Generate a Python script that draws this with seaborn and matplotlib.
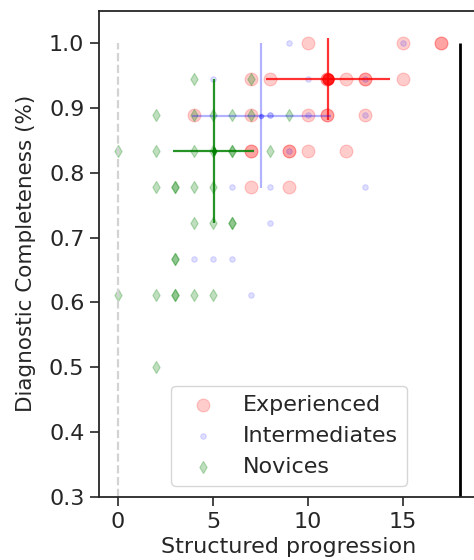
import numpy as np
import pandas as pd
import matplotlib
matplotlib.use('Agg')
import matplotlib.pyplot as plt
import seaborn as sns

# ===================== 数据 =====================
# Experienced (red circles)
exp_x = [10, 15, 17, 17, 7, 8, 11, 11, 12, 13, 13, 15,
         4, 7, 10, 11, 11, 13, 7, 7, 9, 9, 10, 12, 7, 9]
exp_y = [1.0, 1.0, 1.0, 1.0, 0.944, 0.944, 0.944, 0.944, 0.944, 0.944, 0.944, 0.944,
         0.889, 0.889, 0.889, 0.889, 0.889, 0.889, 0.833, 0.833, 0.833, 0.833, 0.833, 0.833,
         0.778, 0.778]

# Intermediates (blue dots)
int_x = [9, 15, 5, 10, 13, 8, 8, 10, 13, 9, 6, 8, 13, 8, 4, 5, 6, 7]
int_y = [1.0, 1.0, 0.944, 0.944, 0.944, 0.889, 0.889, 0.889, 0.889, 0.833,
         0.778, 0.778, 0.778, 0.722, 0.667, 0.667, 0.667, 0.611]

# Novices (green diamonds)
nov_x = [4, 7, 2, 4, 5, 6, 7, 9, 0, 2, 4, 5, 6, 6, 8,
         2, 3, 3, 4, 5, 4, 5, 6, 6, 3, 3, 0, 2, 3, 3, 4, 5, 2]
nov_y = [0.944, 0.944, 0.889, 0.889, 0.889, 0.889, 0.889, 0.889,
         0.833, 0.833, 0.833, 0.833, 0.833, 0.833, 0.833,
         0.778, 0.778, 0.778, 0.778, 0.778, 0.722, 0.722, 0.722, 0.722,
         0.667, 0.667, 0.611, 0.611, 0.611, 0.611, 0.611, 0.611, 0.5]

# 误差线 (center, x spread, y spread)
groups = ['Experienced', 'Intermediates', 'Novices']
center_x = [11.05, 7.55, 5.05]
center_y = [0.944, 0.888, 0.833]
err_x = [3.25, 3.65, 2.13]
err_y = [0.063, 0.112, 0.111]

# ===================== 绘图 =====================
sns.set_style('ticks')
plt.rcParams['font.family'] = ['DejaVu Sans']
fs = 16

fig = plt.figure(figsize=(4.74, 5.6), dpi=100)
ax = fig.add_axes([99 / 474, 63 / 560, 380 / 474, 486.5 / 560])

df_exp = pd.DataFrame({'x': exp_x, 'y': exp_y})
df_int = pd.DataFrame({'x': int_x, 'y': int_y})
df_nov = pd.DataFrame({'x': nov_x, 'y': nov_y})

sns.scatterplot(data=df_exp, x='x', y='y', color='red', marker='o', s=85,
                alpha=0.2, edgecolor='red', linewidth=0.8, label=groups[0], ax=ax)
sns.scatterplot(data=df_int, x='x', y='y', color='blue', marker='o', s=16,
                alpha=0.13, edgecolor='blue', linewidth=0.8, label=groups[1], ax=ax)
sns.scatterplot(data=df_nov, x='x', y='y', color='green', marker='d', s=38,
                alpha=0.25, edgecolor='green', linewidth=0.9, label=groups[2], ax=ax)

# 误差十字
ax.errorbar(center_x[0], center_y[0], xerr=err_x[0], yerr=err_y[0], fmt='o',
            color='red', ms=8, alpha=0.8, lw=1.6)
ax.errorbar(center_x[1], center_y[1], xerr=err_x[1], yerr=err_y[1], fmt='o',
            color='blue', ms=3, alpha=0.3, lw=1.6)
ax.errorbar(center_x[2], center_y[2], xerr=err_x[2], yerr=err_y[2], fmt='d',
            color='green', ms=4, alpha=0.85, lw=1.6)

# 参考线
ax.vlines(0, 0.3, 1.0, colors='lightgray', linestyles='--', lw=1.6)
ax.vlines(18, 0.3, 1.0, colors='black', lw=2)

ax.set_xlim(-1, 19)
ax.set_ylim(0.3, 1.05)
ax.set_xticks([0, 5, 10, 15])
ax.set_yticks([0.3, 0.4, 0.5, 0.6, 0.7, 0.8, 0.9, 1.0])
ax.tick_params(labelsize=fs, width=1.2, length=6.5, pad=4)
ax.set_xlabel('Structured progression', fontsize=fs)
ax.set_ylabel('Diagnostic Completeness (%)', fontsize=15.5, labelpad=9)
for sp in ax.spines.values():
    sp.set_linewidth(1.3)

ax.legend(loc='lower center', fontsize=fs, frameon=True)

fig.savefig('out.png', dpi=100)
